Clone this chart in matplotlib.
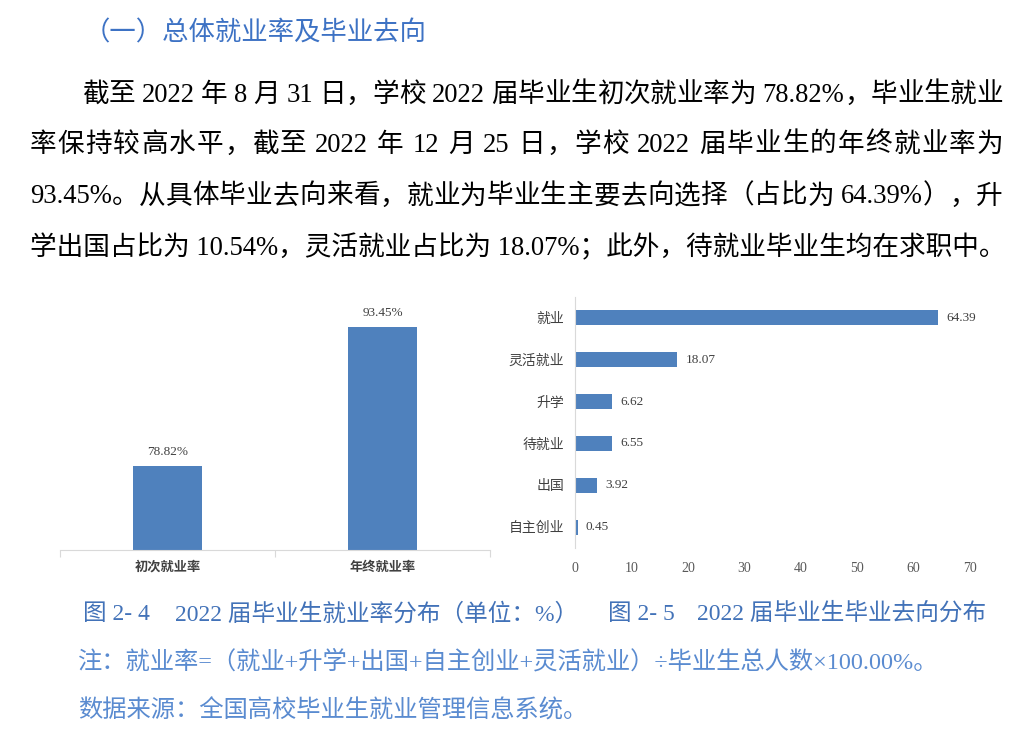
import re
import matplotlib
matplotlib.use('Agg')
import matplotlib.pyplot as plt

# 数据
rate_labels = ['初次就业率', '年终就业率']
rate_values = [78.82, 93.45]

dest_labels = ['就业', '灵活就业', '升学', '待就业', '出国', '自主创业']
dest_values = [64.39, 18.07, 6.62, 6.55, 3.92, 0.45]

heading = '（一）总体就业率及毕业去向'
para_lines = [
    '截至 2022 年 8 月 31 日，学校 2022 届毕业生初次就业率为 78.82%，毕业生就业',
    '率保持较高水平，截至 2022 年 12 月 25 日，学校 2022 届毕业生的年终就业率为',
    '93.45%。从具体毕业去向来看，就业为毕业生主要去向选择（占比为 64.39%），升',
    '学出国占比为 10.54%，灵活就业占比为 18.07%；此外，待就业毕业生均在求职中。',
]
caption_parts = ['图 2- 4', '2022 届毕业生就业率分布（单位：%）', '图 2- 5', '2022 届毕业生毕业去向分布']
note = '注：就业率=（就业+升学+出国+自主创业+灵活就业）÷毕业生总人数×100.00%。'
source = '数据来源：全国高校毕业生就业管理信息系统。'

FAM = ['Liberation Serif', 'Noto Sans CJK SC', 'DejaVu Sans']
plt.rcParams['font.family'] = FAM

W, H = 1033, 729
fig = plt.figure(figsize=(W / 100, H / 100), dpi=100)
renderer = fig.canvas.get_renderer()


def px(x, y):
    return x / W, 1 - y / H


def justify(s, x0, x1, y, size, color='black'):
    # 两端对齐：逐个字符放置，把多余空白平均分到字间
    tokens = re.findall(r'[0-9.%]+|.', s)
    texts = []
    widths = []
    for tok in tokens:
        t = fig.text(0, 0, tok, fontsize=size, color=color, va='center', ha='left')
        w = t.get_window_extent(renderer).width if tok.strip() else size * 100 / 72 * 0.25
        texts.append(t)
        widths.append(w)
    gap = (x1 - x0 - sum(widths)) / (len(tokens) - 1)
    x = x0
    for t, w in zip(texts, widths):
        t.set_position(px(x, y))
        x += w + gap


fig.text(*px(84, 33), heading, fontsize=19, color='#3d72c4', va='center', ha='left',
         fontweight='medium')

body_size = 19.2
justify(para_lines[0], 82, 1003, 95, body_size)
justify(para_lines[1], 30, 1003, 145, body_size)
justify(para_lines[2], 30, 1003, 197, body_size)
fig.text(*px(30, 248), para_lines[3], fontsize=body_size, color='black', va='center', ha='left')

bar_color = '#4f81bd'
txt_color = '#404040'

# 左图：就业率
ax1 = fig.add_axes([60 / W, 1 - 550 / H, 430 / W, (550 - 303) / H])
x1 = range(len(rate_labels))
bars = ax1.bar(x1, rate_values, width=0.32, color=bar_color)
ax1.set_xlim(-0.5, 1.5)
ax1.set_ylim(70, 96)
ax1.set_yticks([])
ax1.set_xticks([-0.5, 0.5, 1.5])
ax1.set_xticklabels([])
ax1.set_xticks(list(x1), minor=True)
ax1.set_xticklabels(rate_labels, minor=True, fontsize=9.5, fontweight='bold', color=txt_color)
ax1.tick_params(axis='x', which='major', length=5, color='#d9d9d9', direction='out')
ax1.tick_params(axis='x', which='minor', length=0, pad=8)
for sp in ['top', 'right', 'left']:
    ax1.spines[sp].set_visible(False)
ax1.spines['bottom'].set_color('#d9d9d9')
for b, v in zip(bars, rate_values):
    ax1.annotate(f'{v:.2f}%', (b.get_x() + b.get_width() / 2, v), xytext=(0, 6),
                 textcoords='offset points', ha='center', va='bottom', fontsize=9.5, color=txt_color)

# 右图：毕业去向
ax2 = fig.add_axes([575 / W, 1 - 548 / H, 395 / W, (548 - 297) / H])
y2 = range(len(dest_labels))
hb = ax2.barh(y2, dest_values, height=0.36, color=bar_color)
ax2.set_ylim(len(dest_labels) - 0.5, -0.5)
ax2.set_xlim(0, 70)
ax2.set_xticks(range(0, 71, 10))
ax2.set_yticks(list(y2))
ax2.set_yticklabels(dest_labels, fontsize=10, color=txt_color)
ax2.tick_params(axis='x', length=0, labelsize=10, labelcolor='#595959', pad=10)
ax2.tick_params(axis='y', length=0, pad=8)
for sp in ['top', 'right', 'bottom']:
    ax2.spines[sp].set_visible(False)
ax2.spines['left'].set_color('#d9d9d9')
for b, v in zip(hb, dest_values):
    ax2.annotate(f'{v:.2f}', (v, b.get_y() + b.get_height() / 2), xytext=(6, 0),
                 textcoords='offset points', ha='left', va='center', fontsize=9.5, color=txt_color)

# 图题和注释
cap_color = '#4272b8'
for part, x in zip(caption_parts, [83, 175, 608, 697]):
    fig.text(*px(x, 614), part, fontsize=17, color=cap_color, va='center', ha='left',
             fontweight='medium')
fig.text(*px(78, 662), note, fontsize=17.5, color='#5a8bd0', va='center', ha='left')
fig.text(*px(78, 711), source, fontsize=17.5, color='#5a8bd0', va='center', ha='left')

fig.savefig('out.png', dpi=100)
